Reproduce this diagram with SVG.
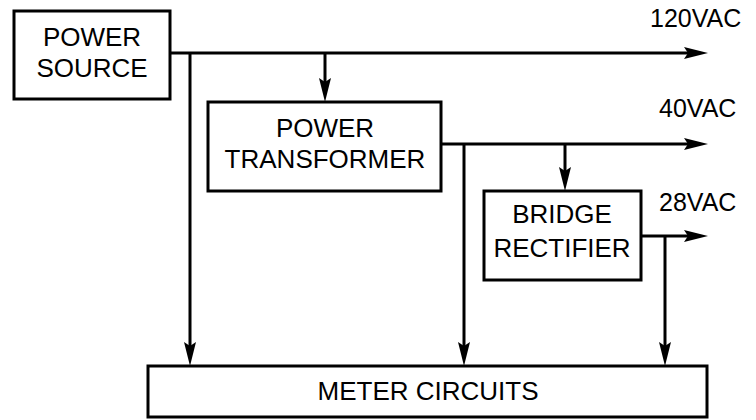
<svg xmlns="http://www.w3.org/2000/svg" width="756" height="420" viewBox="0 0 756 420">
<style>
.box{fill:#fff;stroke:#000;stroke-width:3}
.t{font-family:"Liberation Sans",Arial,sans-serif;font-size:26px;fill:#000;text-anchor:middle}
.l{font-family:"Liberation Sans",Arial,sans-serif;font-size:25px;fill:#000}
.c{fill:none;stroke:#000;stroke-width:3}
</style>
<defs>
<marker id="ah" markerUnits="userSpaceOnUse" markerWidth="26" markerHeight="14" viewBox="0 0 26 14" refX="12" refY="7" orient="auto">
<path d="M0,1 L24,7 L0,13 L4,7 Z" fill="#000"/>
</marker>
</defs>
<rect width="756" height="420" fill="#fff"/>
<g id="connectors">
<path class="c" d="M170,53 H696" marker-end="url(#ah)"/>
<path class="c" d="M190,53 V354" marker-end="url(#ah)"/>
<path class="c" d="M325,53 V90" marker-end="url(#ah)"/>
<path class="c" d="M441,144 H696" marker-end="url(#ah)"/>
<path class="c" d="M464,144 V354" marker-end="url(#ah)"/>
<path class="c" d="M565,144 V179" marker-end="url(#ah)"/>
<path class="c" d="M641,236 H696" marker-end="url(#ah)"/>
<path class="c" d="M665,236 V354" marker-end="url(#ah)"/>
</g>
<g id="power-source">
<rect class="box" x="14" y="11" width="156" height="88"/>
<text class="t" x="92" y="46">POWER</text>
<text class="t" x="92" y="77">SOURCE</text>
</g>
<g id="power-transformer">
<rect class="box" x="208" y="102" width="233" height="89"/>
<text class="t" x="325" y="137">POWER</text>
<text class="t" x="325" y="168">TRANSFORMER</text>
</g>
<g id="bridge-rectifier">
<rect class="box" x="484" y="191" width="157" height="89"/>
<text class="t" x="562" y="223">BRIDGE</text>
<text class="t" x="562" y="257">RECTIFIER</text>
</g>
<g id="meter-circuits">
<rect class="box" x="148" y="366" width="559" height="51"/>
<text class="t" x="428" y="400">METER CIRCUITS</text>
</g>
<g id="labels">
<text class="l" x="650" y="27">120VAC</text>
<text class="l" x="659" y="117">40VAC</text>
<text class="l" x="659" y="211">28VAC</text>
</g>
</svg>
